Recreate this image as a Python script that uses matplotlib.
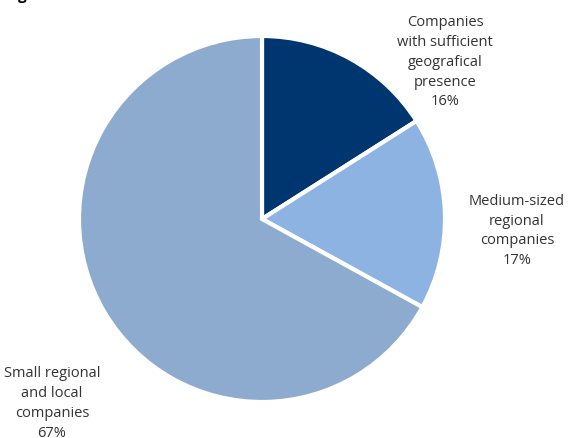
import matplotlib.pyplot as plt

labels = ['Companies\nwith sufficient\ngeografical\npresence',
          'Medium-sized\nregional\ncompanies',
          'Small regional\nand local\ncompanies']
shares = [16, 17, 67]
colors = ['#00366F', '#8DB3E3', '#8DABCF']

plt.rcParams['font.family'] = ['Open Sans', 'DejaVu Sans']

fig = plt.figure(figsize=(5.73, 4.39), dpi=100)
ax = fig.add_axes([0, 0, 1, 1])

wedges, _ = ax.pie(shares, colors=colors, startangle=90, counterclock=False,
                   wedgeprops=dict(edgecolor='white', linewidth=3))

# label positions in pie-radius units
pos = [(1.0, 0.863), (1.393, -0.06), (-1.148, -1.003)]
for lab, val, (x, y) in zip(labels, shares, pos):
    ax.text(x, y, f'{lab}\n{val}%', ha='center', va='center',
            fontsize=10.5, color='#333333', linespacing=1.45)

ax.set_xlim(-262 / 183, (573 - 262) / 183)
ax.set_ylim(-219 / 183, 220 / 183)
ax.set_aspect('equal')
ax.axis('off')

# bottom of the cropped heading
fig.text(0.032, 1.0, 'g', fontsize=11, fontweight='bold', va='baseline')

fig.savefig('out.png', dpi=100)
